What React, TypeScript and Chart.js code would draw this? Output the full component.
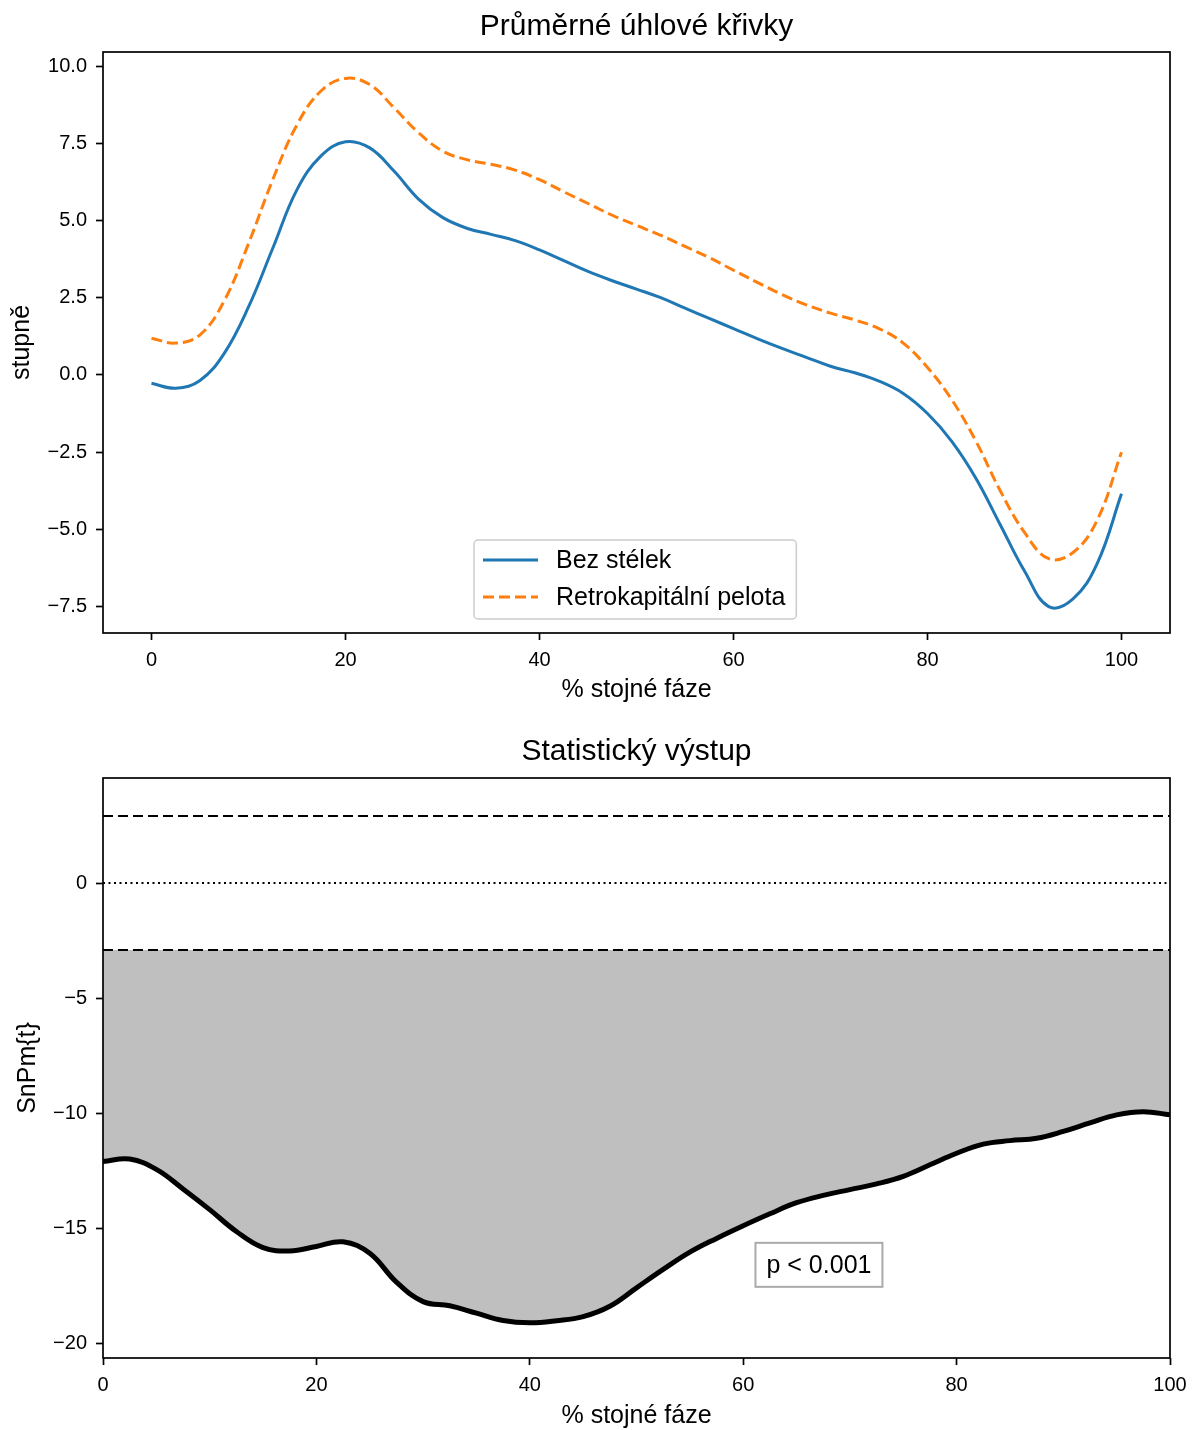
import React, { useEffect, useRef } from 'react';
import { Chart, registerables } from 'chart.js';

Chart.register(...registerables);

const FONT = "'Liberation Sans', Arial, Helvetica, sans-serif";

// % of stance phase
const phase = [
  0, 2.5, 5, 7.5, 10, 12.5, 15, 17.5, 20, 22.5, 25, 27.5, 30, 32.5, 35, 37.5, 40, 42.5, 45, 47.5, 50,
  52.5, 55, 57.5, 60, 62.5, 65, 67.5, 70, 72.5, 75, 77.5, 80, 82.5, 85, 87.5, 90, 92.5, 95, 97.5, 100,
];

// Mean angle curves (degrees)
const bezStelek = [
  -0.27, -0.43, -0.18, 0.7, 2.2, 4.1, 6.0, 7.1, 7.55, 7.35, 6.6, 5.7, 5.1, 4.75, 4.55, 4.35, 4.05, 3.7,
  3.35, 3.05, 2.78, 2.5, 2.16, 1.83, 1.5, 1.17, 0.86, 0.57, 0.28, 0.07, -0.2, -0.6, -1.25, -2.15, -3.35,
  -4.85, -6.35, -7.5, -7.25, -6.1, -3.85,
];
const retrokapitalniPelota = [
  1.19, 1.03, 1.3, 2.4, 4.25, 6.32, 8.1, 9.2, 9.6, 9.4, 8.65, 7.85, 7.25, 6.97, 6.82, 6.63, 6.32, 5.93,
  5.55, 5.17, 4.84, 4.52, 4.16, 3.8, 3.39, 2.99, 2.6, 2.27, 2.0, 1.78, 1.5, 1.03, 0.24, -0.8, -2.15,
  -3.75, -5.1, -5.95, -5.75, -4.7, -2.5,
];

// SnPM{t} statistic
const snpmT = [
  -12.11, -12.0, -12.45, -13.3, -14.2, -15.15, -15.85, -16.0, -15.8, -15.6, -16.1, -17.35, -18.2,
  -18.38, -18.7, -19.02, -19.12, -19.03, -18.85, -18.4, -17.6, -16.8, -16.05, -15.45, -14.9, -14.38,
  -13.9, -13.58, -13.33, -13.08, -12.75, -12.25, -11.75, -11.35, -11.2, -11.1, -10.8, -10.43, -10.08,
  -9.94, -10.08,
];

const criticalT = 2.91;
const seriesLabels = ['Bez stélek', 'Retrokapitální pelota'];
const topXTicks = [0, 20, 40, 60, 80, 100];
const topYTicks = [-7.5, -5, -2.5, 0, 2.5, 5, 7.5, 10];
const bottomXTicks = [0, 20, 40, 60, 80, 100];
const bottomYTicks = [-20, -15, -10, -5, 0];
const pText = 'p < 0.001';
const pLabelX = 67.1;
const pLabelY = -16.6;

const topTitle = 'Průměrné úhlové křivky';
const bottomTitle = 'Statistický výstup';
const xTitle = '% stojné fáze';
const topYTitle = 'stupně';
const bottomYTitle = 'SnPm{t}';

const fmt = (v: number, d: number) => (v < 0 ? '\u2212' : '') + Math.abs(v).toFixed(d);

function toPoints(xs: number[], ys: number[]) {
  return xs.map((x, i) => ({ x, y: ys[i] }));
}

function decor(opts: any) {
  return {
    id: 'decor',
    afterDraw(chart: any) {
      const { ctx, chartArea: a } = chart;
      ctx.save();
      if (opts.extra) opts.extra(chart);
      ctx.strokeStyle = '#000';
      ctx.lineWidth = 1.7;
      ctx.strokeRect(a.left, a.top, a.right - a.left, a.bottom - a.top);
      ctx.fillStyle = '#000';
      ctx.textAlign = 'center';
      ctx.textBaseline = 'middle';
      ctx.font = `30px ${FONT}`;
      ctx.fillText(opts.title, (a.left + a.right) / 2, opts.titleY);
      ctx.font = `25px ${FONT}`;
      ctx.fillText(opts.xLabel, (a.left + a.right) / 2, opts.xLabelY);
      ctx.translate(opts.yLabelX, (a.top + a.bottom) / 2);
      ctx.rotate(-Math.PI / 2);
      ctx.fillText(opts.yLabel, 0, 0);
      ctx.restore();
    },
  };
}

function rrect(ctx: any, x: number, y: number, w: number, h: number, r: number) {
  ctx.beginPath();
  ctx.moveTo(x + r, y);
  ctx.lineTo(x + w - r, y);
  ctx.arcTo(x + w, y, x + w, y + r, r);
  ctx.lineTo(x + w, y + h - r);
  ctx.arcTo(x + w, y + h, x + w - r, y + h, r);
  ctx.lineTo(x + r, y + h);
  ctx.arcTo(x, y + h, x, y + h - r, r);
  ctx.lineTo(x, y + r);
  ctx.arcTo(x, y, x + r, y, r);
  ctx.closePath();
}

function drawLegend(chart: any) {
  const { ctx, chartArea: a } = chart;
  const ds = chart.data.datasets;
  ctx.font = `25px ${FONT}`;
  const tw = Math.max(...ds.map((d: any) => ctx.measureText(d.label).width));
  const w = 82 + tw + 11;
  const h = 79;
  const left = a.left + 371;
  const top = a.bottom - 14 - h;
  rrect(ctx, left, top, w, h, 4);
  ctx.fillStyle = 'rgba(255,255,255,0.85)';
  ctx.fill();
  ctx.strokeStyle = '#cccccc';
  ctx.lineWidth = 1.5;
  ctx.stroke();
  ds.forEach((d: any, i: number) => {
    const y = top + 20 + i * 37;
    ctx.save();
    ctx.strokeStyle = d.borderColor;
    ctx.lineWidth = d.borderWidth;
    ctx.setLineDash(d.borderDash || []);
    ctx.beginPath();
    ctx.moveTo(left + 9, y);
    ctx.lineTo(left + 64, y);
    ctx.stroke();
    ctx.restore();
    ctx.fillStyle = '#000';
    ctx.textAlign = 'left';
    ctx.textBaseline = 'middle';
    ctx.fillText(d.label, left + 82, y + 1);
  });
}

function drawPBox(chart: any) {
  const { ctx } = chart;
  const cx = chart.scales.x.getPixelForValue(pLabelX);
  const cy = chart.scales.y.getPixelForValue(pLabelY);
  ctx.font = `25px ${FONT}`;
  const tw = ctx.measureText(pText).width;
  const w = tw + 22;
  const h = 44;
  ctx.fillStyle = '#fff';
  ctx.fillRect(cx - w / 2, cy - h / 2, w, h);
  ctx.strokeStyle = '#aaaaaa';
  ctx.lineWidth = 2;
  ctx.strokeRect(cx - w / 2, cy - h / 2, w, h);
  ctx.fillStyle = '#000';
  ctx.textAlign = 'center';
  ctx.textBaseline = 'middle';
  ctx.fillText(pText, cx, cy + 1);
}

function axis(min: number, max: number, ticks: number[], dec: number, isX: boolean, size: number) {
  return {
    type: 'linear',
    min,
    max,
    afterBuildTicks: (s: any) => {
      s.ticks = ticks.map((v) => ({ value: v }));
    },
    afterFit: (s: any) => {
      if (isX) {
        s.height = size;
        s.paddingLeft = 0;
        s.paddingRight = 0;
      } else {
        s.width = size;
        s.paddingTop = 0;
        s.paddingBottom = 0;
      }
    },
    grid: {
      display: true,
      drawOnChartArea: false,
      drawTicks: true,
      tickLength: 7,
      tickWidth: 1.7,
      tickColor: '#000',
    },
    border: { display: false },
    ticks: {
      color: '#000',
      font: { family: FONT, size: 20 },
      padding: isX ? 8 : 9,
      maxRotation: 0,
      autoSkip: false,
      callback: (v: number) => fmt(v, dec),
    },
  };
}

function topConfig(): any {
  return {
    type: 'line',
    data: {
      datasets: [
        {
          label: seriesLabels[0],
          data: toPoints(phase, bezStelek),
          borderColor: '#1f77b4',
          borderWidth: 3,
          pointRadius: 0,
          tension: 0.4,
          fill: false,
        },
        {
          label: seriesLabels[1],
          data: toPoints(phase, retrokapitalniPelota),
          borderColor: '#ff7f0e',
          borderWidth: 3,
          borderDash: [11, 5],
          pointRadius: 0,
          tension: 0.4,
          fill: false,
        },
      ],
    },
    options: {
      responsive: false,
      animation: false,
      events: [],
      layout: { padding: { top: 52, right: 22, left: 0, bottom: 0 } },
      plugins: { legend: { display: false }, tooltip: { enabled: false }, title: { display: false } },
      scales: {
        x: axis(-5, 105, topXTicks, 0, true, 82),
        y: axis(-8.355, 10.455, topYTicks, 1, false, 103),
      },
    },
    plugins: [
      decor({
        title: topTitle,
        titleY: 27,
        xLabel: xTitle,
        xLabelY: 690,
        yLabel: topYTitle,
        yLabelX: 22,
        extra: drawLegend,
      }),
    ],
  };
}

function bottomConfig(): any {
  const hline = (y: number, dash: number[]) => ({
    data: [
      { x: 0, y },
      { x: 100, y },
    ],
    borderColor: '#000',
    borderWidth: 2,
    borderDash: dash,
    pointRadius: 0,
    fill: false,
  });
  return {
    type: 'line',
    data: {
      datasets: [
        {
          label: 'SnPM{t}',
          data: toPoints(phase, snpmT),
          borderColor: '#000',
          borderWidth: 5,
          pointRadius: 0,
          tension: 0.4,
          fill: { value: -criticalT },
          backgroundColor: '#bfbfbf',
        },
        hline(criticalT, [10, 5]),
        hline(-criticalT, [10, 5]),
        hline(0, [2, 3.5]),
      ],
    },
    options: {
      responsive: false,
      animation: false,
      events: [],
      layout: { padding: { top: 63, right: 22, left: 0, bottom: 0 } },
      plugins: {
        legend: { display: false },
        tooltip: { enabled: false },
        title: { display: false },
        filler: { drawTime: 'beforeDatasetsDraw' },
      },
      scales: {
        x: axis(0, 100, bottomXTicks, 0, true, 72),
        y: axis(-20.65, 4.565, bottomYTicks, 0, false, 103),
      },
    },
    plugins: [
      decor({
        title: bottomTitle,
        titleY: 37,
        xLabel: xTitle,
        xLabelY: 701,
        yLabel: bottomYTitle,
        yLabelX: 28,
        extra: drawPBox,
      }),
    ],
  };
}

export default function App() {
  const topRef = useRef<HTMLCanvasElement>(null);
  const bottomRef = useRef<HTMLCanvasElement>(null);

  useEffect(() => {
    document.body.style.margin = '0';
    const c1 = new Chart(topRef.current as HTMLCanvasElement, topConfig());
    const c2 = new Chart(bottomRef.current as HTMLCanvasElement, bottomConfig());
    return () => {
      c1.destroy();
      c2.destroy();
    };
  }, []);

  return (
    <div style={{ width: 1192, height: 1430, background: '#fff' }}>
      <canvas ref={topRef} width={1192} height={715} style={{ display: 'block', width: 1192, height: 715 }} />
      <canvas ref={bottomRef} width={1192} height={715} style={{ display: 'block', width: 1192, height: 715 }} />
    </div>
  );
}
